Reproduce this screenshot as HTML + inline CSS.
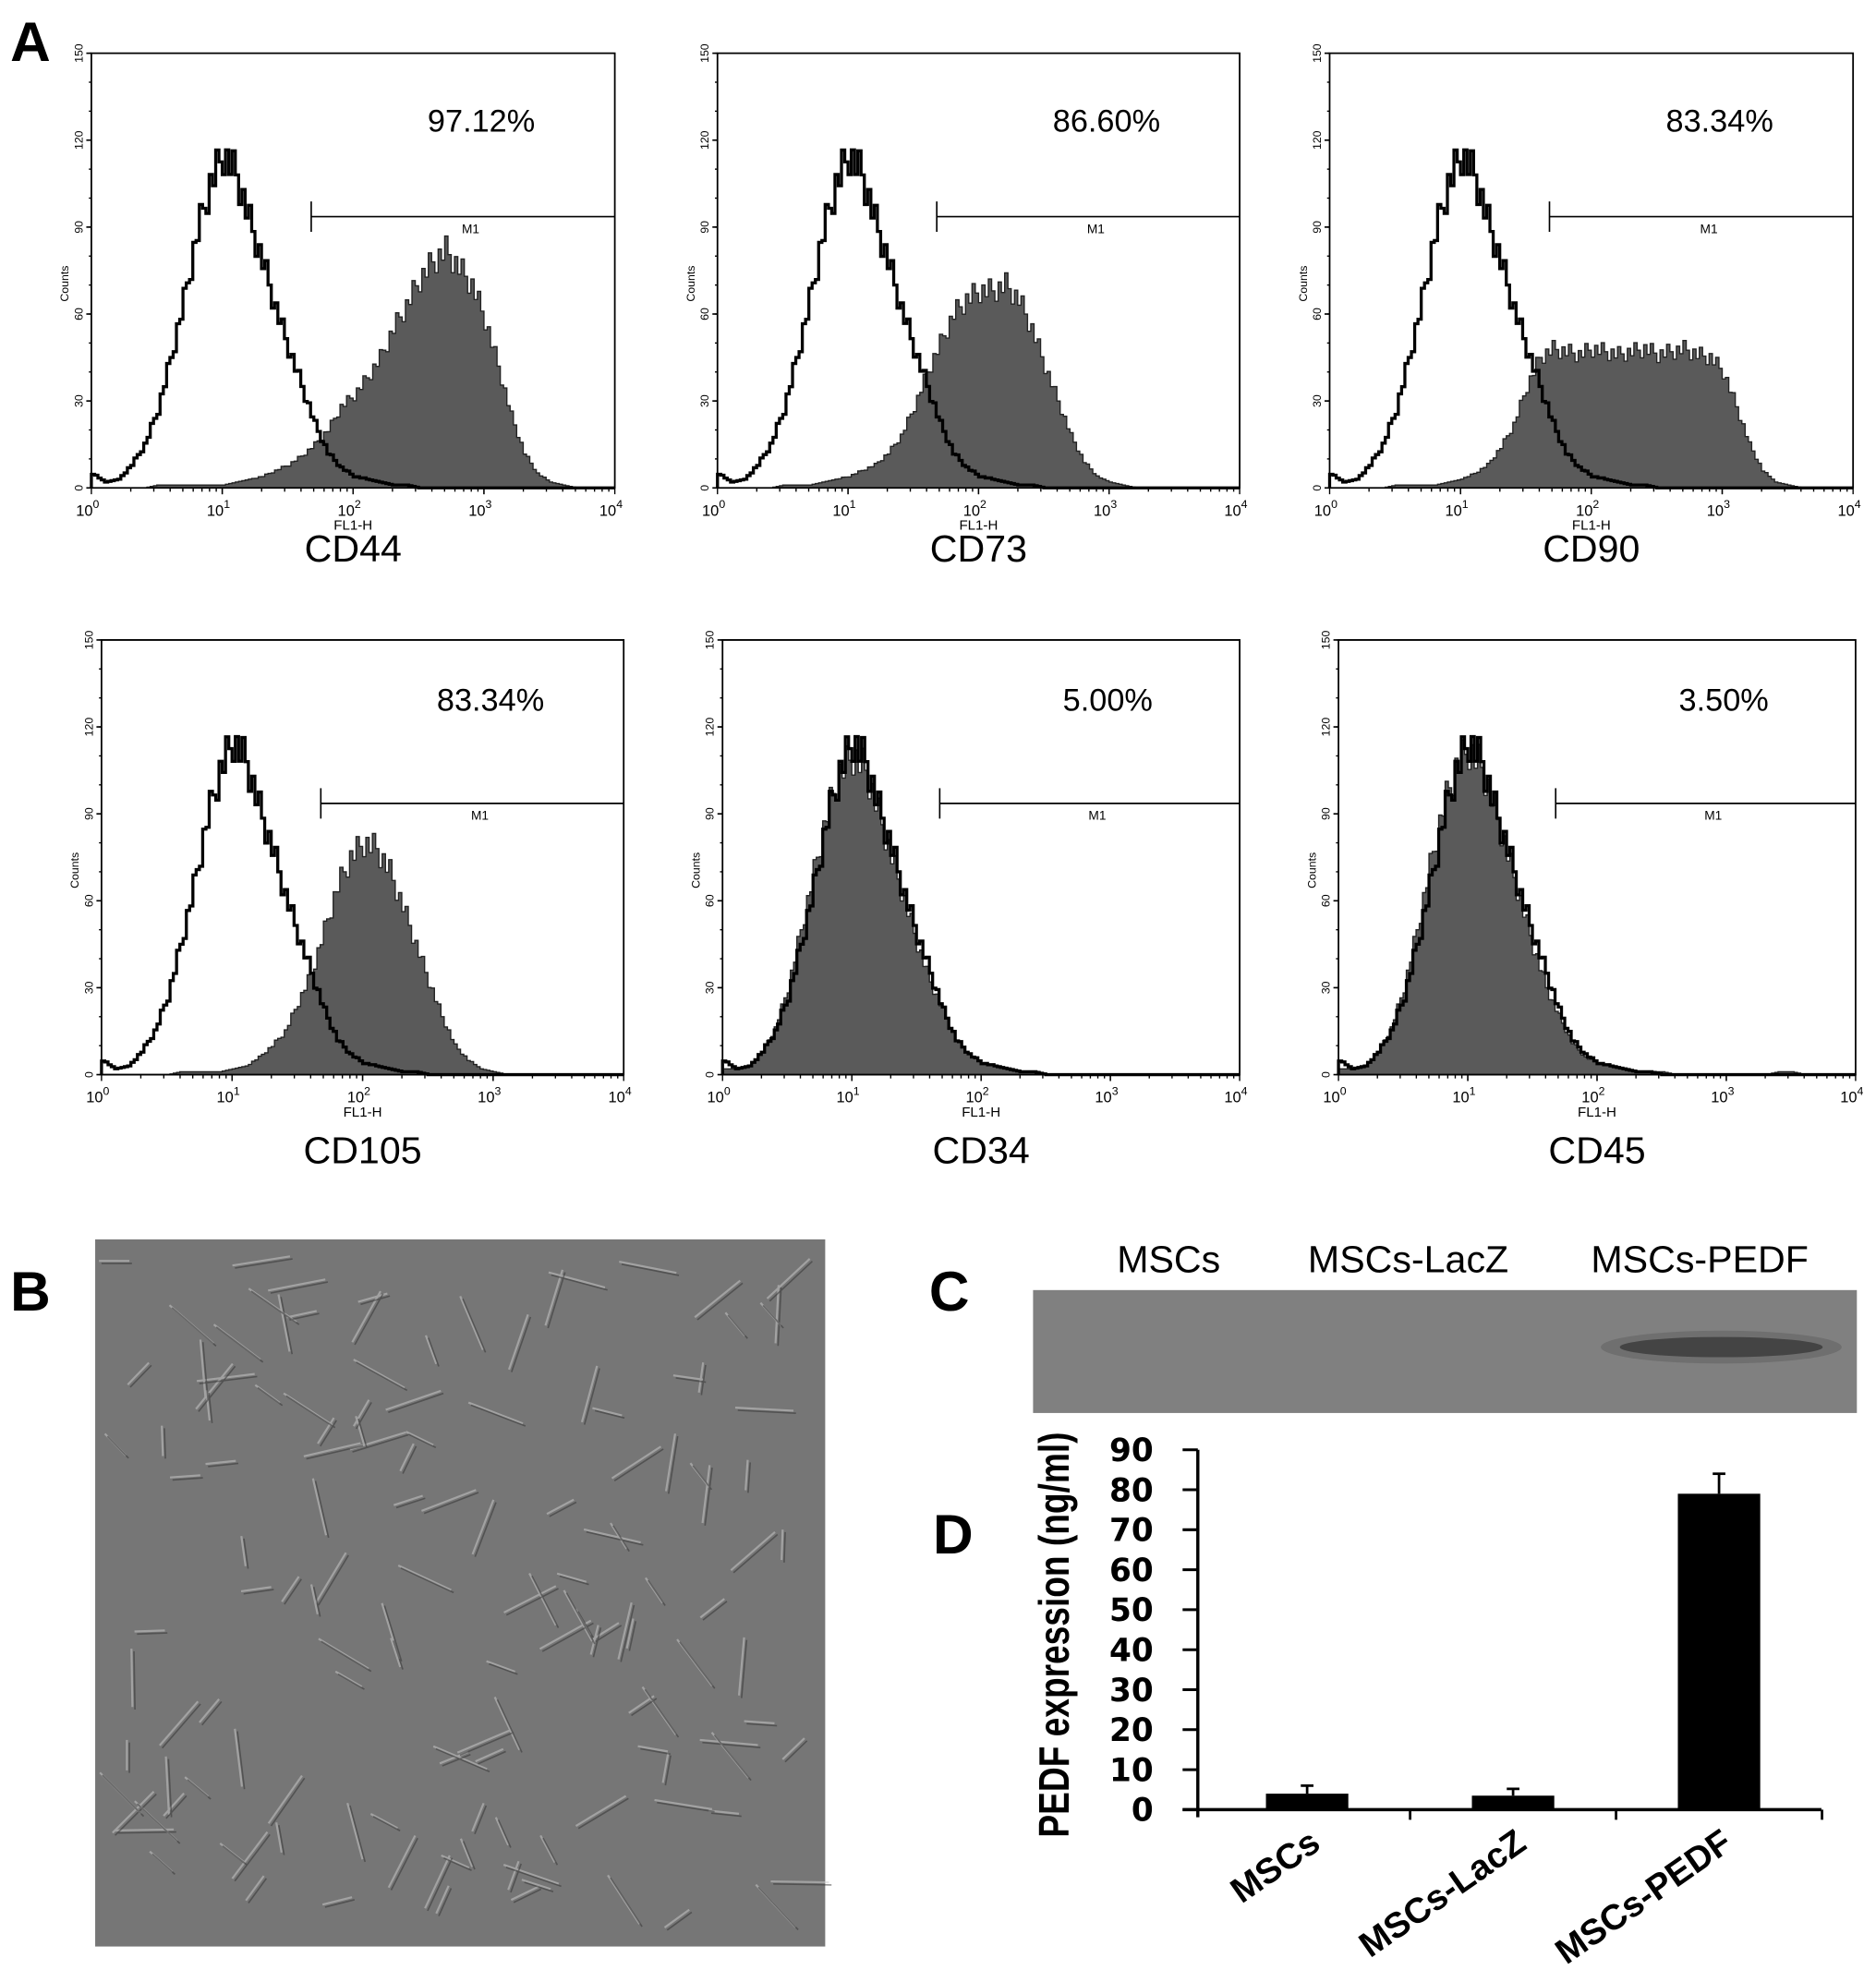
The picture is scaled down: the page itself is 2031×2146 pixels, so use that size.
<!DOCTYPE html>
<html><head><meta charset="utf-8">
<style>
html,body{margin:0;padding:0;background:#fff;}
svg{display:block;font-family:"Liberation Sans",sans-serif;}
</style></head>
<body>
<svg id="fig" width="2031" height="2146" viewBox="0 0 1480 1564" xmlns="http://www.w3.org/2000/svg">
  <text x="8" y="48" font-size="44" font-weight="bold">A</text>
  <text x="8" y="1034" font-size="44" font-weight="bold">B</text>
  <text x="733" y="1034" font-size="44" font-weight="bold">C</text>
  <text x="736" y="1226" font-size="44" font-weight="bold">D</text>
  <g id="hists"></g>
  <g>
    <rect x="75" y="978" width="576" height="558" fill="#767676"/>
    <g id="cells" stroke="#cfcfcf" stroke-width="1.6" fill="none" opacity="0.5"></g>
    <g id="cells2" stroke="#303030" stroke-width="1.2" fill="none" opacity="0.5"></g>
  </g>
  <g>
    <rect x="815" y="1018" width="650" height="97" fill="#808080"/>
    <ellipse cx="1358" cy="1063" rx="95" ry="13" fill="#555" opacity="0.4"/>
    <ellipse cx="1358" cy="1063" rx="80" ry="8" fill="#3a3a3a" opacity="0.8"/>
    <text x="922" y="1004" font-size="30" text-anchor="middle">MSCs</text>
    <text x="1111" y="1004" font-size="30" text-anchor="middle">MSCs-LacZ</text>
    <text x="1341" y="1004" font-size="30" text-anchor="middle">MSCs-PEDF</text>
  </g>
  <g id="bar"></g>
</svg>
<script>
// ---- Flow cytometry data (counts at log10 bins 0.0..4.0 step 0.1) ----
const logBins = [0,0.1,0.2,0.3,0.4,0.5,0.6,0.7,0.8,0.9,1.0,1.1,1.2,1.3,1.4,1.5,1.6,1.7,1.8,1.9,2.0,2.1,2.2,2.3,2.4,2.5,2.6,2.7,2.8,2.9,3.0,3.1,3.2,3.3,3.4,3.5,3.6,3.7,3.8,3.9,4.0];
const isotypeCounts = [5,2,3,8,15,27,45,65,88,105,115,108,92,78,62,48,35,22,12,7,4,3,2,1,1,0,0,0,0,0,0,0,0,0,0,0,0,0,0,0,0];
const cd44Counts = [0,0,0,0,0,1,1,1,1,1,1,2,3,4,6,8,11,15,20,28,32,38,45,55,63,72,78,82,76,70,58,42,25,12,5,2,1,0,0,0,0];
const cd73Counts = [0,0,0,0,0,1,1,1,2,3,4,6,8,12,18,28,40,50,60,65,68,68,70,65,55,42,30,18,9,4,2,1,0,0,0,0,0,0,0,0,0];
const cd90Counts = [0,0,0,0,0,1,1,1,1,2,3,5,8,14,22,35,45,48,47,46,48,47,46,47,48,46,47,48,46,45,40,28,15,6,2,1,0,0,0,0,0];
const cd105Counts = [0,0,0,0,0,0,1,1,1,1,2,3,6,10,15,25,35,50,65,75,80,78,70,58,45,32,20,10,5,2,1,0,0,0,0,0,0,0,0,0,0];
const cd34Counts = [2,2,3,8,16,30,50,70,90,104,110,105,90,75,60,45,32,22,12,7,4,3,2,1,1,0,0,0,0,0,0,0,0,0,0,0,0,0,0,0,0];
const cd45Counts = [2,2,3,8,16,30,50,72,92,106,112,106,92,76,60,44,30,20,11,6,4,3,2,1,1,1,0,0,0,0,0,0,0,0,1,1,0,0,0,0,0];
const markerNames = ["CD44","CD73","CD90","CD105","CD34","CD45"];
const percentLabels = ["97.12%","86.60%","83.34%","83.34%","5.00%","3.50%"];
const sampleSeries = [cd44Counts,cd73Counts,cd90Counts,cd105Counts,cd34Counts,cd45Counts];
const yTicks = [0,30,60,90,120,150];
const gateLog = 1.68;

// ---- Bar chart data ----
const barCategories = ["MSCs","MSCs-LacZ","MSCs-PEDF"];
const barValues = [4,3.5,79];
const barErrors = [2,1.7,5];
const barTicks = [0,10,20,30,40,50,60,70,80,90];

const NS="http://www.w3.org/2000/svg";
function mk(tag, attrs, parent){const e=document.createElementNS(NS,tag);for(const k in attrs)e.setAttribute(k,attrs[k]);parent.appendChild(e);return e;}

const panels=[
 {x:72,y:42,w:413,h:343,labY:443,pctY:104},
 {x:566,y:42,w:412,h:343,labY:443,pctY:104},
 {x:1049,y:42,w:413,h:343,labY:443,pctY:104},
 {x:80,y:505,w:412,h:343,labY:918,pctY:561},
 {x:570,y:505,w:408,h:343,labY:918,pctY:561},
 {x:1056,y:505,w:408,h:343,labY:918,pctY:561}
];
const hg=document.getElementById('hists');
panels.forEach((p,i)=>{
  const g=mk('g',{},hg);
  
  
  const sx=v=>p.x+v/4*p.w;
  const sy=c=>p.y+p.h-c/150*p.h;
  function stepPath(arr,close){
    let d='M'+sx(0)+','+sy(0);
    for(let k=0;k<logBins.length-1;k++){
      const sub=4;
      for(let s=0;s<sub;s++){
        const t=s/sub, v=arr[k]*(1-t)+arr[k+1]*t;
        const jit=v>3?((k*7+s*13)%5-2)*v*0.03:0;
        const x0=sx(logBins[k]+0.1*t), x1=sx(logBins[k]+0.1*(t+1/sub));
        d+=' L'+x0+','+sy(v+jit)+' L'+x1+','+sy(v+jit);
      }
    }
    d+=' L'+sx(4)+','+sy(0);
    if(close)d+=' Z';
    return d;
  }
  const fill=mk('path',{d:stepPath(sampleSeries[i],true),fill:'#5a5a5a',stroke:'#222','stroke-width':1},g);
  
  
  const iso=mk('path',{d:stepPath(isotypeCounts,false),fill:'none',stroke:'#000','stroke-width':2.4},g);
  
  
  mk('path',{d:`M${p.x},${p.y+p.h} L${p.x},${p.y} L${p.x+p.w},${p.y} L${p.x+p.w},${p.y+p.h} L${p.x},${p.y+p.h}`,fill:'none',stroke:'#000','stroke-width':1.3},g);
  yTicks.forEach(t=>{
    mk('line',{x1:p.x-4,x2:p.x,y1:sy(t),y2:sy(t),stroke:'#000','stroke-width':1.2},g);
    const tx=mk('text',{x:0,y:0,'font-size':9,'text-anchor':'middle',transform:`translate(${p.x-7},${sy(t)}) rotate(-90)`},g);
    tx.textContent=t;
  });
  for(let t=0;t<=150;t+=10){mk('line',{x1:p.x-2,x2:p.x,y1:sy(t),y2:sy(t),stroke:'#000','stroke-width':1},g);}
  const yl=mk('text',{x:0,y:0,'font-size':9,'text-anchor':'middle',transform:`translate(${p.x-18},${p.y+p.h*0.53}) rotate(-90)`},g);
  yl.textContent='Counts';
  
  
  for(let dd=0;dd<4;dd++){for(let m=1;m<=10;m++){const lx=dd+Math.log10(m);mk('line',{x1:sx(lx),x2:sx(lx),y1:p.y+p.h,y2:p.y+p.h+(m==1||m==10?5:3),stroke:'#000','stroke-width':1},g);}}
  for(let dd=0;dd<=4;dd++){
    const t=mk('text',{x:sx(dd)-3,y:p.y+p.h+22,'font-size':12,'text-anchor':'middle'},g);
    t.innerHTML='10<tspan dy="-6" font-size="9">'+dd+'</tspan>';
  }
  const xl=mk('text',{x:sx(2),y:p.y+p.h+33,'font-size':11,'text-anchor':'middle'},g);
  xl.textContent='FL1-H';
  
  
  const gy=p.y+p.h*0.376;
  mk('line',{x1:sx(gateLog),x2:p.x+p.w,y1:gy,y2:gy,stroke:'#000','stroke-width':1.2},g);
  mk('line',{x1:sx(gateLog),x2:sx(gateLog),y1:gy-12,y2:gy+12,stroke:'#000','stroke-width':1.2},g);
  const m1=mk('text',{x:(sx(gateLog)+p.x+p.w)/2+6,y:gy+13,'font-size':10,'text-anchor':'middle'},g);
  m1.textContent='M1';
  const pc=mk('text',{x:p.x+p.w*0.745,y:p.pctY,'font-size':25,'text-anchor':'middle'},g);
  pc.textContent=percentLabels[i];
  
  
  const lb=mk('text',{x:sx(2),y:p.labY,'font-size':30,'text-anchor':'middle'},g);
  lb.textContent=markerNames[i];
  
  
});

// cells decoration
const cg=document.getElementById('cells'), cg2=document.getElementById('cells2');
for(let i=0;i<140;i++){
  const cx=90+((i*97)%545), cy=995+((i*61+i*i*3)%525), a=(i*37)%180*Math.PI/180, L=12+(i*11)%22;
  mk('line',{x1:cx-Math.cos(a)*L,y1:cy-Math.sin(a)*L,x2:cx+Math.cos(a)*L,y2:cy+Math.sin(a)*L},cg);
  mk('line',{x1:cx-Math.cos(a)*L+2,y1:cy-Math.sin(a)*L+2,x2:cx+Math.cos(a)*L+2,y2:cy+Math.sin(a)*L+2},cg2);
}

// bar chart
const bg=document.getElementById('bar');
const ax={x0:945,x1:1437,y0:1428,y1:1144,band0:950,slot:162.5};
const by=v=>ax.y0-(v/90)*(ax.y0-ax.y1);
const bx=i=>ax.band0+ax.slot*(i+0.5);
mk('line',{x1:ax.x0,x2:ax.x0,y1:ax.y1,y2:ax.y0+6,stroke:'#000','stroke-width':2.5},bg);
mk('line',{x1:ax.x0-12,x2:ax.x1,y1:ax.y0,y2:ax.y0,stroke:'#000','stroke-width':2.5},bg);
barTicks.forEach(t=>{
  mk('line',{x1:ax.x0-12,x2:ax.x0,y1:by(t),y2:by(t),stroke:'#000','stroke-width':2.2},bg);
  const tx=mk('text',{x:910,y:by(t)+9,'font-size':25,'font-weight':'bold','font-family':'DejaVu Sans, sans-serif','text-anchor':'end'},bg);
  tx.textContent=t;
});
for(let i=1;i<=3;i++){mk('line',{x1:ax.band0+ax.slot*i,x2:ax.band0+ax.slot*i,y1:ax.y0,y2:ax.y0+8,stroke:'#000','stroke-width':2},bg);}
barValues.forEach((v,i)=>{
  const w=65;
  const r=mk('rect',{x:bx(i)-w/2,y:by(v),width:w,height:ax.y0-by(v),fill:'#000'},bg);
  
  
  const e=barErrors[i];
  mk('line',{x1:bx(i),x2:bx(i),y1:by(v),y2:by(v+e),stroke:'#000','stroke-width':2},bg);
  mk('line',{x1:bx(i)-5,x2:bx(i)+5,y1:by(v+e),y2:by(v+e),stroke:'#000','stroke-width':2},bg);
  const t=mk('text',{x:0,y:0,'font-size':28,'font-weight':'bold','text-anchor':'end',transform:`translate(${bx(i)+12},${ax.y0+30}) rotate(-35)`},bg);
  t.textContent=barCategories[i];
  
  
});
const yt=mk('text',{x:0,y:0,'font-size':34,'font-weight':'bold','text-anchor':'middle',textLength:320,lengthAdjust:'spacingAndGlyphs',transform:`translate(843,1290) rotate(-90)`},bg);
yt.textContent='PEDF expression (ng/ml)';


</script>
</body></html>
